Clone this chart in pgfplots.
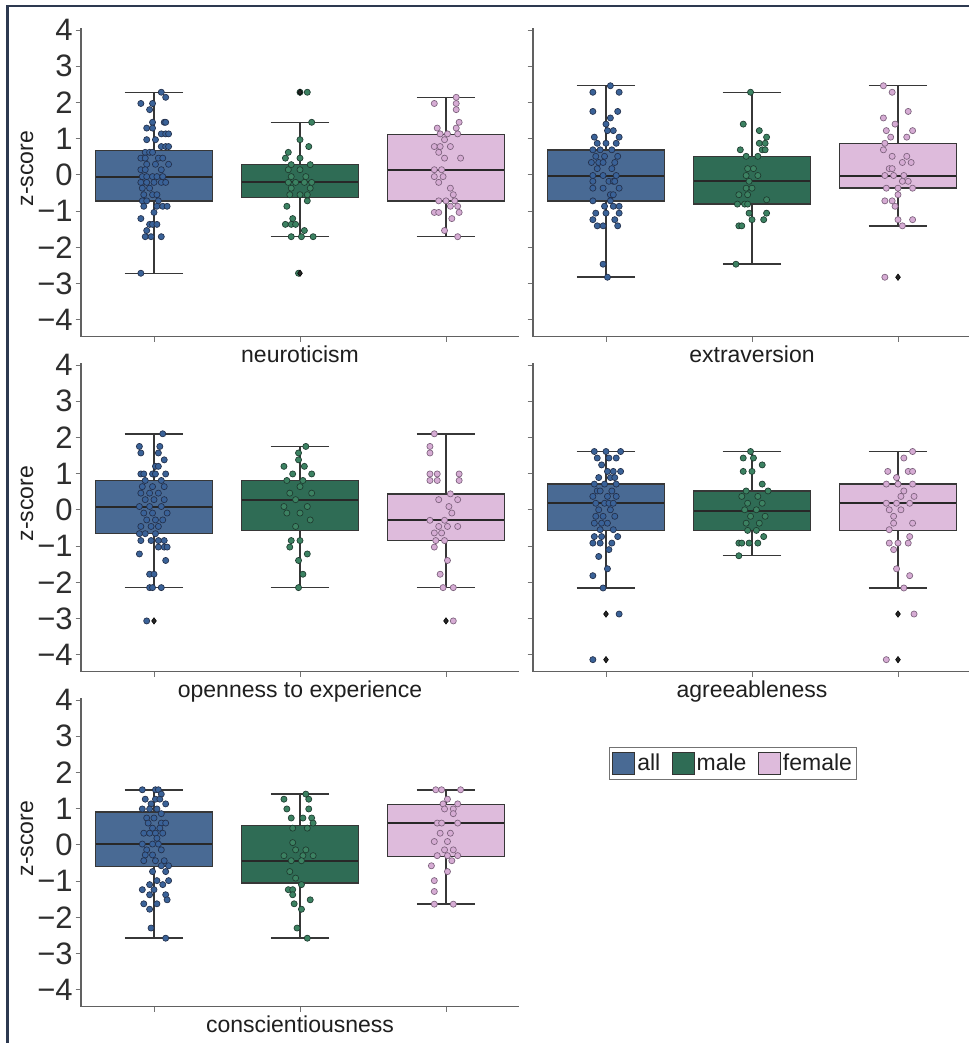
\documentclass[border=0pt]{standalone}
\usepackage{fontspec}
\setmainfont{Liberation Sans}
\usepackage{pgfplots}
\usepackage{pgfplotstable}
\pgfplotsset{compat=1.18}
\usepgfplotslibrary{statistics}

\definecolor{cAll}{RGB}{73,106,148}
\definecolor{cMale}{RGB}{47,108,85}
\definecolor{cFem}{RGB}{222,187,220}
\definecolor{edgec}{RGB}{55,55,55}
\definecolor{medc}{RGB}{40,40,40}
\definecolor{pAll}{RGB}{58,98,152}
\definecolor{pAllE}{RGB}{35,48,75}
\definecolor{pMale}{RGB}{60,130,98}
\definecolor{pMaleE}{RGB}{30,60,48}
\definecolor{pFem}{RGB}{214,172,212}
\definecolor{pFemE}{RGB}{125,98,125}
\definecolor{framec}{RGB}{45,57,80}

% ---------------- data: dx = jitter offset from the category, y = z-score
\pgfplotstableread{
dx y
0.05 2.28
0.08 2.14
-0.09 1.97
-0.01 1.97
-0.03 1.80
-0.01 1.45
0.07 1.45
0.08 1.45
-0.05 1.29
-0.01 1.29
0.05 1.13
0.08 1.13
0.10 1.13
-0.05 0.97
0.01 0.97
0.05 0.78
0.08 0.78
0.10 0.78
-0.06 0.62
-0.03 0.62
-0.01 0.62
-0.09 0.46
-0.06 0.46
0.03 0.46
0.06 0.46
-0.05 0.29
0.01 0.29
0.10 0.29
-0.09 0.14
-0.06 0.14
0.05 0.14
-0.08 -0.05
-0.05 -0.05
-0.01 -0.05
0.02 -0.05
0.06 -0.05
-0.09 -0.21
-0.05 -0.21
0.00 -0.21
0.05 -0.21
0.08 -0.21
-0.08 -0.37
-0.03 -0.37
-0.07 -0.55
-0.01 -0.55
0.02 -0.55
-0.08 -0.72
-0.05 -0.72
0.03 -0.72
-0.07 -0.87
0.02 -0.87
0.06 -0.87
0.09 -0.87
0.00 -1.04
-0.09 -1.21
-0.03 -1.37
-0.01 -1.37
0.02 -1.37
-0.05 -1.54
-0.06 -1.71
-0.02 -1.71
0.05 -1.71
-0.09 -2.72
}\NeuAll
\pgfplotstableread{
dx y
0.00 2.28
0.05 2.28
0.08 1.45
0.00 0.97
0.06 0.78
-0.08 0.62
-0.10 0.46
0.00 0.46
-0.06 0.28
0.07 0.28
-0.08 0.14
0.00 0.14
-0.06 -0.05
0.04 -0.05
-0.08 -0.21
-0.03 -0.21
0.03 -0.21
0.08 -0.21
-0.06 -0.37
0.07 -0.37
-0.07 -0.55
0.00 -0.55
0.05 -0.55
0.05 -0.72
-0.09 -0.87
-0.05 -1.21
-0.10 -1.37
-0.06 -1.37
-0.03 -1.37
0.03 -1.54
-0.06 -1.71
0.01 -1.71
0.09 -1.71
-0.01 -2.72
}\NeuMale
\pgfplotstableread{
dx y
0.07 2.14
-0.08 1.97
0.07 1.97
0.07 1.80
0.09 1.45
-0.06 1.29
0.07 1.29
-0.04 1.13
0.01 1.13
0.08 1.13
-0.01 0.97
-0.08 0.78
-0.04 0.78
0.03 0.78
-0.05 0.62
-0.01 0.46
0.10 0.46
-0.08 0.14
-0.03 0.14
-0.08 -0.05
-0.02 -0.05
-0.05 -0.21
0.03 -0.37
0.05 -0.55
-0.05 -0.72
0.00 -0.72
0.06 -0.72
0.03 -0.87
0.08 -0.87
-0.08 -1.04
-0.05 -1.04
0.09 -1.04
0.04 -1.21
-0.01 -1.54
0.08 -1.71
}\NeuFem

\pgfplotstableread{
dx y
0.03 2.46
-0.09 2.28
0.09 2.28
-0.09 1.75
0.08 1.75
0.03 1.57
0.00 1.40
0.01 1.22
0.05 1.22
-0.08 1.04
0.09 1.04
0.00 0.87
0.07 0.87
-0.06 0.87
-0.09 0.69
-0.04 0.69
0.04 0.69
-0.07 0.51
-0.01 0.51
0.08 0.51
-0.10 0.34
-0.05 0.34
-0.02 0.34
0.06 0.34
-0.06 0.17
0.04 0.17
-0.09 -0.02
-0.02 -0.02
0.07 -0.02
-0.09 -0.18
0.02 -0.18
0.05 -0.18
0.06 -0.18
-0.09 -0.37
-0.02 -0.37
0.09 -0.37
0.03 -0.55
0.05 -0.55
-0.09 -0.72
0.03 -0.72
-0.01 -0.87
0.05 -0.87
0.09 -0.87
-0.07 -1.06
0.00 -1.06
0.09 -1.06
-0.09 -1.24
0.06 -1.24
-0.06 -1.41
-0.02 -1.41
0.08 -1.41
-0.02 -2.47
0.01 -2.83
}\ExtAll
\pgfplotstableread{
dx y
-0.01 2.28
-0.06 1.40
0.05 1.22
0.10 1.04
0.05 0.87
0.09 0.87
-0.08 0.69
0.07 0.69
0.09 0.69
-0.04 0.51
0.04 0.51
-0.03 0.17
0.01 0.17
-0.04 -0.02
0.04 -0.02
-0.02 -0.18
-0.04 -0.37
0.00 -0.37
-0.09 -0.55
-0.03 -0.55
0.10 -0.69
-0.10 -0.81
-0.05 -0.81
-0.03 -0.81
-0.02 -1.06
0.10 -1.06
0.00 -1.24
0.08 -1.24
-0.09 -1.41
-0.07 -1.41
-0.11 -2.47
}\ExtMale
\pgfplotstableread{
dx y
-0.10 2.46
-0.04 2.28
0.07 1.75
-0.10 1.57
-0.02 1.40
-0.08 1.22
0.10 1.22
-0.05 1.04
0.06 1.04
-0.09 0.87
-0.10 0.69
-0.04 0.51
0.06 0.51
0.03 0.34
0.09 0.34
-0.06 0.17
-0.04 0.17
-0.09 -0.02
-0.03 -0.02
0.04 -0.02
0.03 -0.18
0.07 -0.18
-0.08 -0.37
0.00 -0.37
0.10 -0.37
0.00 -0.55
-0.09 -0.72
-0.04 -0.72
-0.02 -0.87
0.00 -1.24
0.10 -1.24
0.03 -1.41
-0.09 -2.83
}\ExtFem

\pgfplotstableread{
dx y
0.06 2.10
-0.10 1.75
0.04 1.75
-0.09 1.57
0.03 1.57
0.07 1.38
0.01 1.20
0.03 1.20
-0.09 0.99
-0.07 0.99
-0.01 0.99
0.01 0.99
0.08 0.99
-0.06 0.81
0.05 0.81
-0.08 0.64
-0.01 0.64
0.07 0.64
-0.09 0.46
-0.03 0.46
0.03 0.46
-0.06 0.28
0.00 0.28
0.07 0.28
-0.10 0.09
-0.03 0.09
0.05 0.09
-0.07 -0.09
-0.01 -0.09
0.09 -0.09
-0.05 -0.28
0.01 -0.28
0.06 -0.28
-0.09 -0.46
-0.02 -0.46
0.03 -0.46
-0.10 -0.66
-0.06 -0.66
0.01 -0.66
-0.09 -0.85
-0.02 -0.85
0.03 -0.85
0.07 -0.85
0.03 -1.03
0.07 -1.03
0.09 -1.03
-0.10 -1.22
0.08 -1.40
-0.03 -1.78
0.00 -1.78
-0.03 -2.15
-0.01 -2.15
0.05 -2.15
-0.05 -3.07
}\OpeAll
\pgfplotstableread{
dx y
0.04 1.75
-0.01 1.57
-0.01 1.38
-0.11 1.20
0.03 1.20
-0.05 0.99
0.08 0.99
-0.09 0.81
0.02 0.81
0.00 0.64
-0.07 0.46
0.08 0.46
-0.03 0.28
-0.11 0.09
0.05 0.09
-0.09 -0.09
0.00 -0.09
0.07 -0.28
-0.03 -0.46
-0.06 -0.85
0.00 -0.85
-0.07 -1.03
0.05 -1.22
-0.01 -1.40
0.02 -1.78
-0.01 -2.15
}\OpeMale
\pgfplotstableread{
dx y
-0.08 2.10
-0.11 1.75
-0.11 1.57
-0.11 0.99
-0.06 0.99
0.09 0.99
-0.11 0.81
-0.06 0.81
0.09 0.81
0.03 0.44
-0.05 0.28
0.08 0.28
0.02 0.09
0.04 -0.09
-0.11 -0.29
-0.01 -0.29
-0.05 -0.46
0.01 -0.46
0.08 -0.46
-0.08 -0.64
-0.03 -0.64
-0.07 -0.85
-0.01 -0.85
-0.08 -1.03
0.01 -1.40
-0.04 -1.78
-0.02 -2.15
0.05 -2.15
0.05 -3.07
}\OpeFem

\pgfplotstableread{
dx y
-0.08 1.61
0.00 1.61
0.10 1.61
-0.06 1.43
0.02 1.43
0.07 1.43
-0.03 1.24
0.01 1.06
0.05 1.06
0.10 1.06
-0.05 0.89
0.03 0.89
0.06 0.89
-0.08 0.71
-0.01 0.71
0.07 0.71
-0.06 0.52
-0.04 0.52
0.04 0.52
-0.09 0.37
0.01 0.37
0.07 0.37
-0.07 0.18
-0.01 0.18
0.02 0.18
0.05 0.18
-0.05 0.00
0.03 0.00
-0.07 -0.18
-0.02 -0.18
0.06 -0.18
-0.08 -0.37
-0.03 -0.37
0.01 -0.37
-0.04 -0.55
0.05 -0.55
-0.08 -0.74
-0.03 -0.74
0.08 -0.74
-0.09 -0.92
-0.04 -0.92
0.04 -0.92
0.02 -1.10
-0.05 -1.29
0.01 -1.63
-0.09 -1.82
-0.02 -2.16
0.09 -2.88
-0.09 -4.14
}\AgrAll
\pgfplotstableread{
dx y
-0.01 1.61
-0.06 1.43
0.01 1.43
0.07 1.24
-0.06 1.06
0.00 1.06
0.07 0.71
-0.04 0.52
0.11 0.52
-0.07 0.37
0.04 0.37
-0.03 0.18
0.07 0.18
-0.05 0.00
0.03 0.00
-0.01 -0.18
0.09 -0.18
-0.04 -0.37
0.05 -0.37
-0.03 -0.57
0.03 -0.57
0.08 -0.74
-0.09 -0.92
-0.07 -0.92
-0.02 -0.92
0.04 -0.92
-0.09 -1.27
}\AgrMale
\pgfplotstableread{
dx y
0.10 1.61
0.04 1.43
-0.07 1.06
0.07 1.06
0.10 1.06
-0.01 0.89
-0.08 0.71
0.00 0.71
0.10 0.71
0.04 0.52
0.02 0.37
0.11 0.37
-0.08 0.18
-0.01 0.18
0.08 0.18
-0.06 0.00
0.02 0.00
-0.03 -0.18
-0.03 -0.37
0.10 -0.37
-0.06 -0.55
0.08 -0.74
-0.06 -0.92
0.00 -0.92
0.07 -0.92
-0.03 -1.10
-0.01 -1.63
0.08 -1.82
0.04 -2.16
0.11 -2.88
-0.08 -4.14
}\AgrFem

\pgfplotstableread{
dx y
-0.08 1.52
0.01 1.52
0.03 1.52
0.05 1.40
-0.06 1.26
0.01 1.26
0.04 1.26
-0.02 1.13
0.08 1.13
-0.08 0.99
-0.03 0.99
0.02 0.99
0.05 0.86
-0.05 0.74
0.00 0.74
-0.04 0.60
0.05 0.60
0.08 0.60
-0.01 0.46
0.04 0.46
-0.07 0.32
-0.03 0.32
0.01 0.32
0.06 0.32
0.02 0.18
-0.08 0.02
-0.01 0.02
0.03 0.02
-0.05 -0.14
0.05 -0.14
-0.06 -0.28
-0.01 -0.28
-0.07 -0.44
0.01 -0.44
0.07 -0.44
0.05 -0.58
0.10 -0.58
-0.01 -0.74
0.08 -0.74
0.02 -0.99
0.10 -0.99
-0.03 -1.10
0.06 -1.10
-0.08 -1.24
0.00 -1.24
-0.03 -1.38
0.08 -1.38
0.09 -1.52
-0.07 -1.63
0.02 -1.63
-0.03 -1.78
-0.02 -2.30
0.08 -2.58
}\ConAll
\pgfplotstableread{
dx y
0.04 1.40
-0.11 1.26
0.06 1.26
-0.09 0.99
0.06 0.99
-0.06 0.74
0.02 0.74
0.08 0.74
0.09 0.60
-0.05 0.46
0.05 0.46
-0.05 0.06
-0.03 -0.14
0.04 -0.14
-0.11 -0.30
0.02 -0.30
0.09 -0.30
-0.06 -0.44
0.01 -0.44
-0.07 -0.74
-0.03 -0.92
0.01 -1.10
-0.08 -1.24
-0.05 -1.24
-0.05 -1.38
0.07 -1.52
-0.04 -1.63
0.01 -1.78
-0.02 -2.30
0.05 -2.58
}\ConMale
\pgfplotstableread{
dx y
-0.07 1.52
-0.03 1.52
0.10 1.52
0.01 1.26
-0.02 1.13
0.08 1.13
-0.01 0.99
0.05 0.99
0.05 0.86
-0.06 0.60
-0.03 0.60
0.08 0.60
-0.04 0.32
0.03 0.32
-0.08 0.09
0.01 0.09
-0.01 -0.14
0.05 -0.14
-0.06 -0.30
0.01 -0.30
0.08 -0.30
0.04 -0.44
-0.10 -0.58
0.01 -0.74
-0.08 -0.99
-0.08 -1.29
-0.08 -1.64
0.05 -1.64
}\ConFem

\pgfplotsset{
  panel/.style={
    scale only axis, width=328.5pt, height=231.3pt,
    xmin=-0.5, xmax=2.5, ymin=-4.47, ymax=4.05,
    boxplot/draw direction=y,
    boxplot/every median/.style={draw=medc, line width=1.5pt},
    boxplot/every box/.style={draw=edgec, line width=1.1pt},
    boxplot/every whisker/.style={draw=edgec, line width=1.1pt},
    axis lines=left, axis line style={-, draw=black!62, line width=0.8pt},
    xtick={0,1,2}, xticklabels={}, ytick={-4,-3,-2,-1,0,1,2,3,4},
    tick align=outside, major tick length=4pt,
    tick style={draw=black!55, line width=0.7pt},
    yticklabels={−4,−3,−2,−1,0,1,2,3,4},
    yticklabel style={font=\fontsize{23.25pt}{24pt}\selectfont, text=black!82, inner xsep=2pt},
    xlabel style={font=\fontsize{17.25pt}{20pt}\selectfont, text=black!88,
      at={(axis description cs:0.5,-0.085)}, anchor=base},
    ylabel style={font=\fontsize{17.25pt}{20pt}\selectfont, text=black!88,
      at={(axis description cs:-0.123,0.545)}, anchor=center},
    clip=false,
  },
  bx/.style={draw=edgec, line width=1.1pt, solid},
  ptAll/.style={only marks, mark=*, mark size=2.3pt, mark options={fill=pAll, draw=pAllE, line width=0.5pt}},
  ptMale/.style={only marks, mark=*, mark size=2.3pt, mark options={fill=pMale, draw=pMaleE, line width=0.5pt}},
  ptFem/.style={only marks, mark=*, mark size=2.3pt, mark options={fill=pFem, draw=pFemE, line width=0.5pt}},
  flier/.style={only marks, mark=diamond*, mark size=2.4pt, mark options={fill=black!85, draw=black}},
}

\newcommand{\boxes}[3]{%
  \addplot[bx, fill=cAll, boxplot prepared={draw position=0, box extend=0.8, whisker extend=0.4, #1}] coordinates {};
  \addplot[bx, fill=cMale, boxplot prepared={draw position=1, box extend=0.8, whisker extend=0.4, #2}] coordinates {};
  \addplot[bx, fill=cFem, boxplot prepared={draw position=2, box extend=0.8, whisker extend=0.4, #3}] coordinates {};
}
\newcommand{\points}[3]{%
  \addplot[ptAll] table[x expr=\thisrow{dx}, y=y] {#1};
  \addplot[ptMale] table[x expr=\thisrow{dx}+1, y=y] {#2};
  \addplot[ptFem] table[x expr=\thisrow{dx}+2, y=y] {#3};
}

\begin{document}
\begin{tikzpicture}
\useasboundingbox (0pt,0pt) rectangle (726.75pt,782.25pt);
\fill[white] (0pt,0pt) rectangle (726.75pt,782.25pt);

% ---- neuroticism
\begin{axis}[panel, at={(60.75pt,529.8pt)}, anchor=south west, xlabel={neuroticism}, ylabel={z-score}]
\boxes{lower whisker=-2.72, lower quartile=-0.72, median=-0.05, upper quartile=0.67, upper whisker=2.28}
      {lower whisker=-1.71, lower quartile=-0.63, median=-0.20, upper quartile=0.28, upper whisker=1.45}
      {lower whisker=-1.71, lower quartile=-0.72, median=0.13, upper quartile=1.12, upper whisker=2.14}
\points{\NeuAll}{\NeuMale}{\NeuFem}
\addplot[flier] coordinates {(1,2.28) (1,-2.72)};
\end{axis}

% ---- extraversion
\begin{axis}[panel, at={(399.75pt,529.8pt)}, anchor=south west, xlabel={extraversion}, yticklabels={}]
\boxes{lower whisker=-2.83, lower quartile=-0.72, median=-0.02, upper quartile=0.69, upper whisker=2.46}
      {lower whisker=-2.47, lower quartile=-0.81, median=-0.18, upper quartile=0.51, upper whisker=2.28}
      {lower whisker=-1.41, lower quartile=-0.37, median=-0.02, upper quartile=0.87, upper whisker=2.46}
\points{\ExtAll}{\ExtMale}{\ExtFem}
\addplot[flier] coordinates {(2,-2.83)};
\end{axis}

% ---- openness to experience
\begin{axis}[panel, at={(60.75pt,278.55pt)}, anchor=south west, xlabel={openness to experience}, ylabel={z-score}]
\boxes{lower whisker=-2.15, lower quartile=-0.66, median=0.09, upper quartile=0.81, upper whisker=2.10}
      {lower whisker=-2.15, lower quartile=-0.57, median=0.28, upper quartile=0.81, upper whisker=1.75}
      {lower whisker=-2.15, lower quartile=-0.85, median=-0.29, upper quartile=0.44, upper whisker=2.10}
\points{\OpeAll}{\OpeMale}{\OpeFem}
\addplot[flier] coordinates {(0,-3.07) (2,-3.07)};
\end{axis}

% ---- agreeableness
\begin{axis}[panel, at={(399.75pt,278.55pt)}, anchor=south west, xlabel={agreeableness}, yticklabels={}]
\boxes{lower whisker=-2.16, lower quartile=-0.57, median=0.18, upper quartile=0.71, upper whisker=1.61}
      {lower whisker=-1.27, lower quartile=-0.57, median=-0.03, upper quartile=0.52, upper whisker=1.61}
      {lower whisker=-2.16, lower quartile=-0.57, median=0.18, upper quartile=0.71, upper whisker=1.61}
\points{\AgrAll}{\AgrMale}{\AgrFem}
\addplot[flier] coordinates {(0,-2.88) (0,-4.14) (2,-2.88) (2,-4.14)};
\end{axis}

% ---- conscientiousness
\begin{axis}[panel, at={(60.75pt,27.3pt)}, anchor=south west, xlabel={conscientiousness}, ylabel={z-score}]
\boxes{lower whisker=-2.58, lower quartile=-0.60, median=0.02, upper quartile=0.90, upper whisker=1.52}
      {lower whisker=-2.58, lower quartile=-1.06, median=-0.45, upper quartile=0.53, upper whisker=1.40}
      {lower whisker=-1.64, lower quartile=-0.32, median=0.60, upper quartile=1.12, upper whisker=1.52}
\points{\ConAll}{\ConMale}{\ConFem}
\end{axis}

% ---- legend
\begin{axis}[at={(399.75pt,27.3pt)}, anchor=south west, scale only axis, width=328.5pt, height=231.3pt,
  hide axis, xmin=0, xmax=1, ymin=0, ymax=1,
  legend columns=3,
  legend style={at={(0.1735,0.842)}, anchor=north west, draw=black!55, line width=0.8pt,
    font=\fontsize{17.25pt}{20pt}\selectfont, text=black!88,
    inner xsep=2pt, inner ysep=3pt,
    nodes={inner xsep=1.5pt, inner ysep=2pt},
    /tikz/every even column/.append style={column sep=7pt}},
  legend image code/.code={\draw[#1, draw=black!80, line width=0.8pt] (0pt,-8.25pt) rectangle (16.5pt,8.25pt);}]
\addlegendimage{fill=cAll}\addlegendentry{all}
\addlegendimage{fill=cMale}\addlegendentry{male}
\addlegendimage{fill=cFem}\addlegendentry{female}
\end{axis}

% ---- outer frame (top and left edges)
\draw[line width=1.9pt, color=framec] (5.6pt,-5pt) -- (5.6pt,777.9pt) -- (735pt,777.9pt);
\end{tikzpicture}
\end{document}
